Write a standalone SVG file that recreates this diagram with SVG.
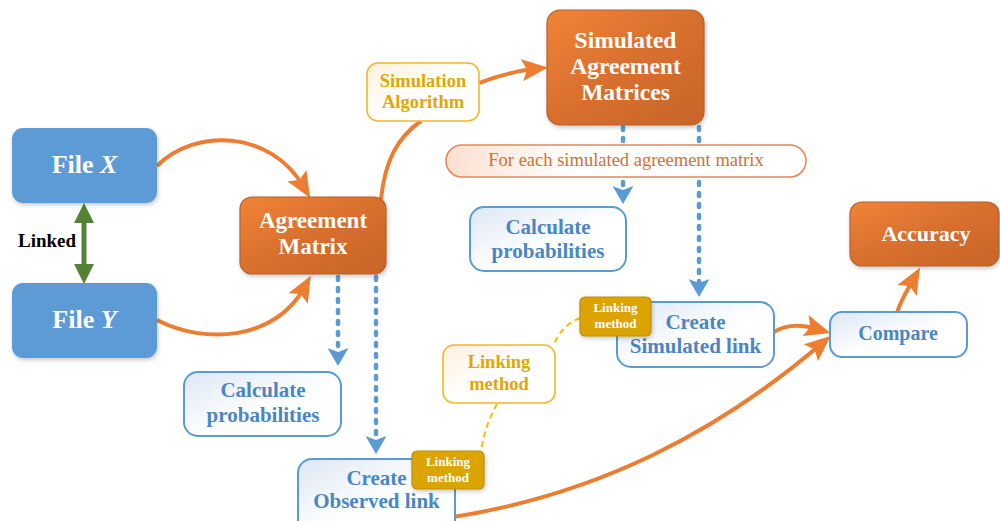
<svg xmlns="http://www.w3.org/2000/svg" width="1000" height="521" viewBox="0 0 1000 521">
<defs>
<linearGradient id="gOr" x1="0" y1="0" x2="1" y2="1"><stop offset="0" stop-color="#f08436"/><stop offset="0.5" stop-color="#d86f2e"/><stop offset="1" stop-color="#c8652a"/></linearGradient>
<linearGradient id="gBl" x1="0" y1="0" x2="1" y2="1"><stop offset="0" stop-color="#dde7f5"/><stop offset="0.55" stop-color="#ffffff"/><stop offset="1" stop-color="#ffffff"/></linearGradient>
<linearGradient id="gYe" x1="0" y1="0" x2="1" y2="1"><stop offset="0" stop-color="#fdf0dc"/><stop offset="0.5" stop-color="#ffffff"/></linearGradient>
<linearGradient id="gPi" x1="0" y1="0" x2="1" y2="0"><stop offset="0" stop-color="#fbe0d0"/><stop offset="0.35" stop-color="#ffffff"/></linearGradient>
<filter id="sh" x="-20%" y="-20%" width="140%" height="150%"><feDropShadow dx="1" dy="2" stdDeviation="2" flood-color="#000" flood-opacity="0.22"/></filter>
<marker id="ao" markerUnits="userSpaceOnUse" markerWidth="26" markerHeight="22" viewBox="0 0 26 22" refX="12" refY="11" orient="auto"><path d="M0,0 L26,11 L0,22 L5,11 z" fill="#ed7d31"/></marker>
<marker id="ab" markerUnits="userSpaceOnUse" markerWidth="18" markerHeight="21" viewBox="0 0 18 21" refX="4" refY="10.5" orient="auto"><path d="M0,0 L18,10.5 L0,21 L4,10.5 z" fill="#5b9bd5"/></marker>
<marker id="ag" markerUnits="userSpaceOnUse" markerWidth="20" markerHeight="20" viewBox="0 0 20 20" refX="4" refY="10" orient="auto-start-reverse"><path d="M0,0 L20,10 L0,20 z" fill="#548235"/></marker>
<style>
text{font-family:"Liberation Serif","Times New Roman",serif;font-weight:bold;text-anchor:middle}
.fb{fill:#5b9bd5;filter:url(#sh)}
.or{fill:url(#gOr);stroke:#b8612a;stroke-width:1.2;filter:url(#sh)}
.lb{fill:url(#gBl);stroke:#5b9bd5;stroke-width:2}
.ye{fill:url(#gYe);stroke:#f0b828;stroke-width:1.6}
.lm{fill:#dba400;stroke:#bf8f00;stroke-width:1.2;filter:url(#sh)}
.pi{fill:url(#gPi);stroke:#e5875a;stroke-width:1.6}
.tw{fill:#ffffff}
.tb{fill:#4a86c4;font-size:21px}
.ty{fill:#e0a800;font-size:18.5px}
.co{fill:none;stroke:#ed7d31;stroke-width:4;marker-end:url(#ao)}
.cb{fill:none;stroke:#5b9bd5;stroke-width:4.5;stroke-dasharray:3 8;stroke-linecap:round;marker-end:url(#ab)}
.cy{fill:none;stroke:#f5c000;stroke-width:2;stroke-dasharray:6 4}
</style>
</defs>
<rect width="1000" height="521" fill="#ffffff"/>
<g id="connectors">
<path class="co" d="M157,166 C195,128 270,130 303,186"/>
<path class="co" d="M157,320 C205,345 275,340 304,288"/>
<path fill="none" stroke="#ed7d31" stroke-width="4" d="M381,199 C385,160 398,137 421,121"/>
<path class="co" d="M479,83 C495,77 515,71 534,69"/>
<path class="co" d="M774,332 C785,325 800,324 817,329"/>
<path class="co" d="M447,518 C600,495 720,430 820,345"/>
<path class="co" d="M897,313 C900,302 905,294 913,280"/>
<path class="cb" d="M338,277 L338,352"/>
<path class="cb" d="M376,277 L376,440"/>
<path class="cb" d="M623,127 L623,190"/>
<path class="cb" d="M699,127 L699,283"/>
<path fill="none" stroke="#548235" stroke-width="5" d="M84,219 L84,268" marker-start="url(#ag)" marker-end="url(#ag)"/>
<path class="cy" d="M580,318 Q562,325 553,346"/>
<path class="cy" d="M497,404 Q485,425 481,451"/>
</g>
<text x="47" y="247" style="font-size:19px;fill:#000">Linked</text>
<g id="fileX"><rect class="fb" x="12" y="128" width="145" height="75" rx="11"/><text class="tw" x="84.5" y="173" style="font-size:26px">File <tspan font-style="italic">X</tspan></text></g>
<g id="fileY"><rect class="fb" x="12" y="283" width="145" height="75" rx="11"/><text class="tw" x="84.5" y="328" style="font-size:26px">File <tspan font-style="italic">Y</tspan></text></g>
<g id="agreement"><rect class="or" x="240" y="197" width="146" height="77" rx="12"/><text class="tw" x="313" y="228" style="font-size:23px">Agreement</text><text class="tw" x="313" y="254" style="font-size:23px">Matrix</text></g>
<g id="simalg"><rect class="ye" x="367" y="63" width="112" height="58" rx="11"/><text class="ty" x="423" y="87">Simulation</text><text class="ty" x="423" y="108">Algorithm</text></g>
<g id="sam"><rect class="or" x="547" y="10" width="157" height="115" rx="13"/><text class="tw" x="625.5" y="48" style="font-size:23.5px">Simulated</text><text class="tw" x="625.5" y="74" style="font-size:23.5px">Agreement</text><text class="tw" x="625.5" y="100" style="font-size:23.5px">Matrices</text></g>
<g id="foreach"><rect class="pi" x="446" y="145" width="360" height="32" rx="16"/><text x="626" y="166" style="font-size:18.5px;font-weight:normal;fill:#d0703a">For each simulated agreement matrix</text></g>
<g id="calcR"><rect class="lb" x="470" y="207" width="156" height="64" rx="14"/><text class="tb" x="548" y="234">Calculate</text><text class="tb" x="548" y="258">probabilities</text></g>
<g id="calcL"><rect class="lb" x="184" y="372" width="157" height="64" rx="14"/><text class="tb" x="263" y="397">Calculate</text><text class="tb" x="263" y="422">probabilities</text></g>
<g id="accuracy"><rect class="or" x="850" y="202" width="149" height="64" rx="12"/><text class="tw" x="926" y="241" style="font-size:22px">Accuracy</text></g>
<g id="compare"><rect class="lb" x="830" y="312" width="137" height="45" rx="12"/><text class="tb" x="898" y="340" style="font-size:20px">Compare</text></g>
<g id="simlink"><rect class="lb" x="617" y="302" width="157" height="65" rx="14"/><text class="tb" x="695.5" y="329">Create</text><text class="tb" x="695.5" y="353">Simulated link</text></g>
<g id="obslink"><rect class="lb" x="298" y="459" width="157" height="75" rx="14"/><text class="tb" x="376.5" y="485">Create</text><text class="tb" x="376.5" y="508">Observed link</text></g>
<g id="linkmid"><rect class="ye" x="443" y="345" width="112" height="58" rx="11"/><text class="ty" x="499" y="368">Linking</text><text class="ty" x="499" y="390">method</text></g>
<g id="linktop"><rect class="lm" x="580" y="297" width="71" height="39" rx="5"/><text class="tw" x="615.5" y="312" style="font-size:13px">Linking</text><text class="tw" x="615.5" y="328" style="font-size:13px">method</text></g>
<g id="linkbot"><rect class="lm" x="412" y="451" width="72" height="38" rx="5"/><text class="tw" x="448" y="466" style="font-size:13px">Linking</text><text class="tw" x="448" y="482" style="font-size:13px">method</text></g>
</svg>
